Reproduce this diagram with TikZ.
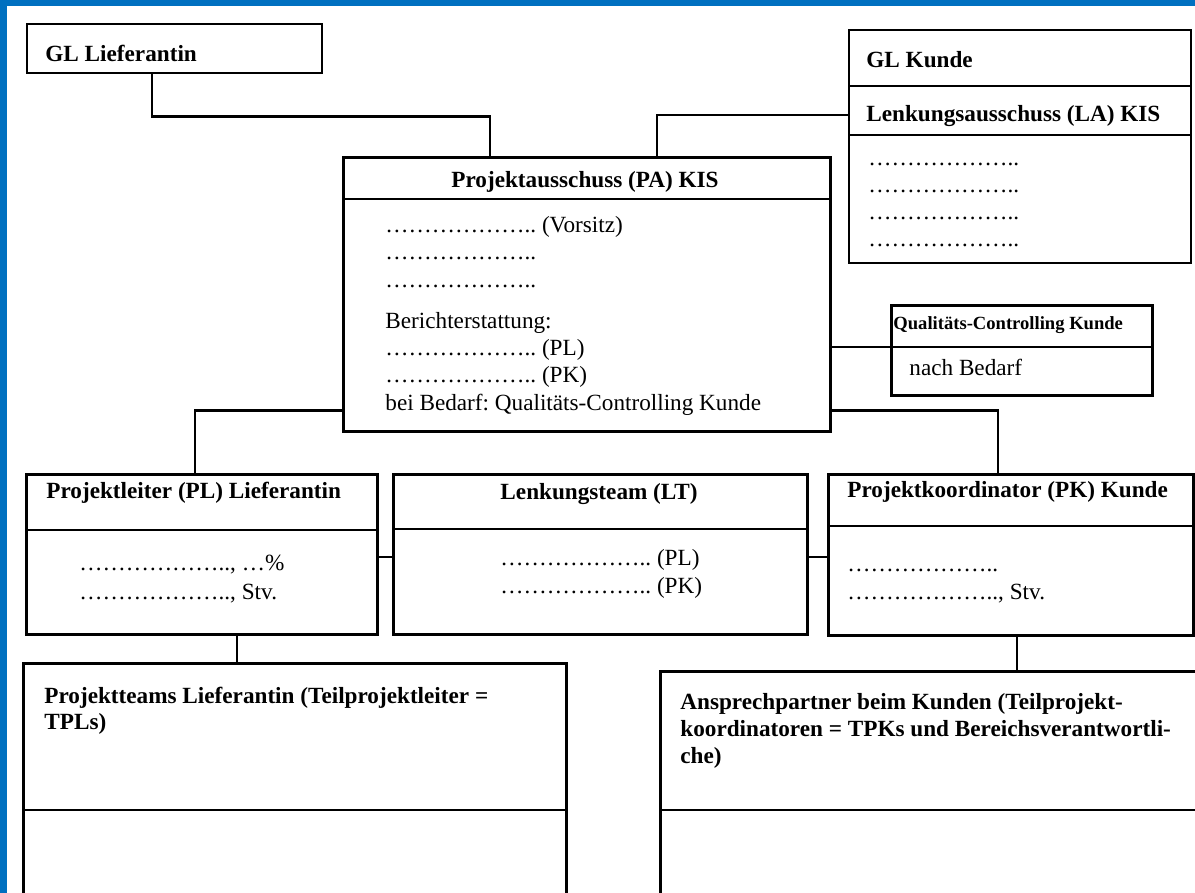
\documentclass[tikz,border=0pt]{standalone}
\usepackage{fontspec}
\setmainfont{Liberation Serif}
\usepackage{tikz}
\usetikzlibrary{positioning, calc}
\definecolor{FrameBlue}{HTML}{0070C0}
\definecolor{BoxInk}{HTML}{000000}
\newcommand{\ellip}{…}
\newcommand{\luecke}{\ellip\ellip\ellip\ellip\ellip\ellip..}
\frenchspacing

\begin{document}
\begin{tikzpicture}[
    x=0.5pt, y=-0.5pt,
    font=\fontsize{11.6}{13.8}\selectfont,
    boxsize/.style 2 args={minimum width=#1*0.5pt, minimum height=#2*0.5pt},
    orgbox/.style={
      rectangle,
      draw=BoxInk,
      line width=1.4pt,
      fill=white,
      inner sep=0pt,
      anchor=north west,
    },
    glbox/.style={orgbox, line width=0.9pt},
    divider/.style={draw=BoxInk, line width=1.4pt},
    thindivider/.style={draw=BoxInk, line width=0.9pt},
    head/.style={font=\fontsize{11.6}{13.8}\selectfont\bfseries, inner sep=0pt, anchor=base west},
    smallhead/.style={head, font=\fontsize{9.3}{11}\selectfont\bfseries},
    body/.style={inner sep=0pt, anchor=base west},
    link/.style={draw=BoxInk, line width=1.4pt},
    stub/.style={draw=BoxInk, line width=1pt},
  ]
    \useasboundingbox (0,0) rectangle (1195,893);
    \clip (0,0) rectangle (1195,893);
    \fill[FrameBlue] (0,0) rectangle (1195,893);
    \fill[white] (7,6) rectangle (1195,893);

    % Geschaeftsleitungen
    \node[glbox, boxsize={295}{49}] (gll) at (26,23) {};
    \node[head] (gll-title) at (45,62) {GL Lieferantin};

    \node[glbox, boxsize={342}{233}] (glk) at (848,29) {};
    \draw[thindivider] ($(glk.north west)+(0,57)$) -- ($(glk.north east)+(0,57)$);
    \draw[thindivider] ($(glk.north west)+(0,106)$) -- ($(glk.north east)+(0,106)$);
    \node[head] (glk-title) at (866,68) {GL Kunde};
    \node[head] (la-title) at (866,122) {Lenkungsausschuss (LA) KIS};
    \node[body] (la-1) at (868,166) {\luecke};
    \node[body] (la-2) at (868,193) {\luecke};
    \node[body] (la-3) at (868,220) {\luecke};
    \node[body] (la-4) at (868,247) {\luecke};

    % Projektausschuss
    \node[orgbox, boxsize={487}{274}] (pa) at (342,156) {};
    \draw[divider] ($(pa.north west)+(0,43)$) -- ($(pa.north east)+(0,43)$);
    \node[head, anchor=base] (pa-title) at (585,188) {Projektausschuss (PA) KIS};
    \node[body] (pa-1) at (385,233) {\luecke{} (Vorsitz)};
    \node[body] (pa-2) at (385,260) {\luecke};
    \node[body] (pa-3) at (385,288) {\luecke};
    \node[body] (pa-4) at (385,329) {Berichterstattung:};
    \node[body] (pa-5) at (385,356) {\luecke{} (PL)};
    \node[body] (pa-6) at (385,383) {\luecke{} (PK)};
    \node[body] (pa-7) at (385,410) {bei Bedarf: Qualitäts-Controlling Kunde};

    \node[orgbox, boxsize={261}{90}] (qc) at (890,304) {};
    \draw[divider] ($(qc.north west)+(0,43)$) -- ($(qc.north east)+(0,43)$);
    \node[smallhead] (qc-title) at (893,330) {Qualitäts-Controlling Kunde};
    \node[body] (qc-1) at (909,376) {nach Bedarf};

    % Projektleitung
    \node[orgbox, boxsize={351}{160}] (pl) at (25,473) {};
    \draw[divider] ($(pl.north west)+(0,57)$) -- ($(pl.north east)+(0,57)$);
    \node[head] (pl-title) at (46,498) {Projektleiter (PL) Lieferantin};
    \node[body] (pl-1) at (79,570) {\luecke, \ellip\%};
    \node[body] (pl-2) at (79,599) {\luecke, Stv.};

    \node[orgbox, boxsize={414}{160}] (lt) at (392,473) {};
    \draw[divider] ($(lt.north west)+(0,56)$) -- ($(lt.north east)+(0,56)$);
    \node[head, anchor=base] (lt-title) at (599,499) {Lenkungsteam (LT)};
    \node[body] (lt-1) at (500,565) {\luecke{} (PL)};
    \node[body] (lt-2) at (500,593) {\luecke{} (PK)};

    \node[orgbox, boxsize={365}{161}] (pk) at (827,473) {};
    \draw[divider] ($(pk.north west)+(0,53)$) -- ($(pk.north east)+(0,53)$);
    \node[head] (pk-title) at (847,497) {Projektkoordinator (PK) Kunde};
    \node[body] (pk-1) at (847,571) {\luecke};
    \node[body] (pk-2) at (847,599) {\luecke, Stv.};

    % Teams
    \node[orgbox, boxsize={543}{260}] (pteam) at (22,662) {};
    \draw[divider] ($(pteam.north west)+(0,148)$) -- ($(pteam.north east)+(0,148)$);
    \node[head] (pteam-1) at (44,703) {Projektteams Lieferantin (Teilprojektleiter =};
    \node[head] (pteam-2) at (44,729) {TPLs)};

    \node[orgbox, boxsize={560}{260}] (ansp) at (659,670) {};
    \draw[divider] ($(ansp.north west)+(0,140)$) -- ($(ansp.north east)+(0,140)$);
    \node[head] (ansp-1) at (680,709) {Ansprechpartner beim Kunden (Teilprojekt-};
    \node[head] (ansp-2) at (680,736) {koordinatoren = TPKs und Bereichsverantwortli-};
    \node[head] (ansp-3) at (680,763) {che)};

    % Verbindungen
    \draw[link] ($(gll.south west)+(126,0)$) -- ++(0,43) -| ($(pa.north west)+(148,0)$);
    \draw[link] ($(glk.north west)+(0,86)$) -| ($(pa.north west)+(315,0)$);
    \draw[link] ($(qc.north west)+(0,43)$) coordinate (qc-row) -- (qc-row -| pa.east);
    \draw[link] ($(pa.south east)+(0,-22)$) -| ($(pk.north west)+(171,0)$);
    \draw[link] ($(pa.south west)+(0,-22)$) -| ($(pl.north west)+(170,0)$);
    \draw[stub] ($(pl.north east)+(0,84)$) coordinate (pl-row) -- (pl-row -| lt.west);
    \draw[stub] ($(lt.north east)+(0,84)$) coordinate (lt-row) -- (lt-row -| pk.west);
    \draw[link] ($(pl.south west)+(212,0)$) coordinate (pl-foot) -- (pl-foot |- pteam.north);
    \draw[link] ($(pk.south west)+(190,0)$) coordinate (pk-foot) -- (pk-foot |- ansp.north);
\end{tikzpicture}
\end{document}
